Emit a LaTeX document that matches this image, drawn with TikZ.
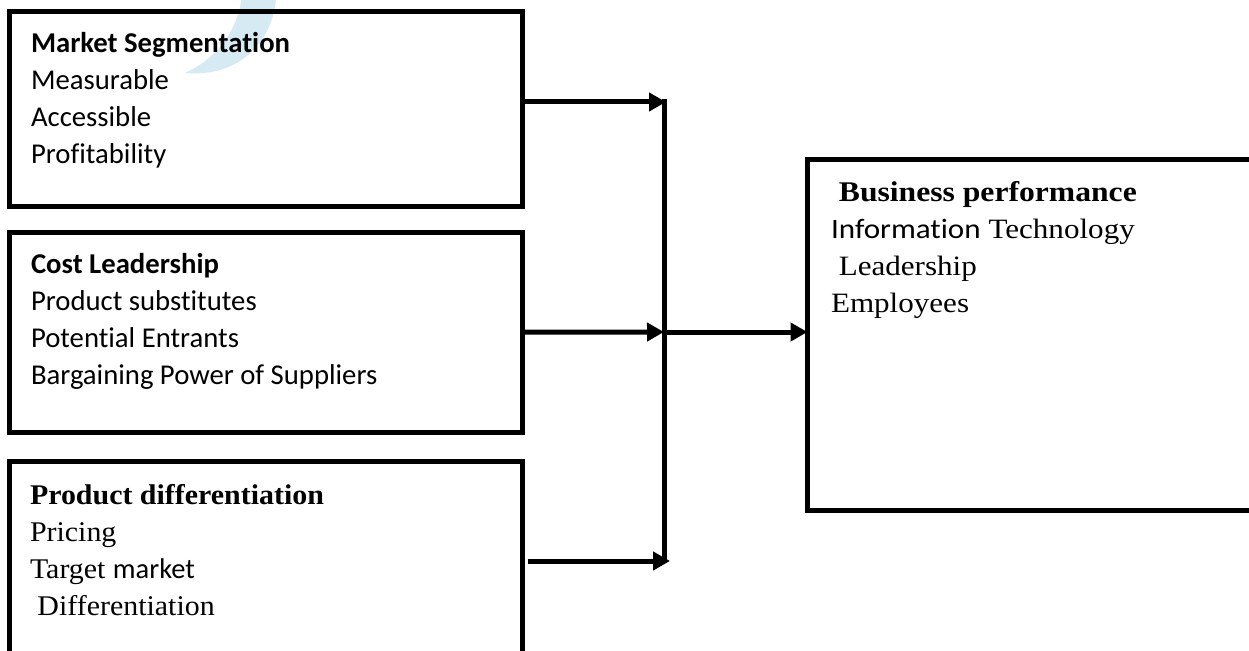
\documentclass[tikz,border=0pt]{standalone}
\usepackage{fontspec}
\usetikzlibrary{arrows.meta}
\newfontfamily\carlito[Ligatures=NoCommon]{Carlito}
\newfontfamily\tnr[FakeStretch=1.05]{Liberation Serif}
\newfontfamily\tnrwide[FakeStretch=1.11]{Liberation Serif}
\newfontfamily\carlitowide[FakeStretch=1.11,Ligatures=NoCommon]{Carlito}
\definecolor{wmblue}{RGB}{214,234,244}
% stack of lines, baseline of the node = baseline of the first line
\newcommand\linestack[1]{\vtop{\baselineskip=37pt\lineskiplimit=-100pt #1}}
\begin{document}
\begin{tikzpicture}[x=1pt,y=-1pt,
  box/.style={draw=black, line width=5pt, inner sep=0pt, outer sep=0pt, anchor=north west},
  txt/.style={anchor=base west, inner sep=0pt, outer sep=0pt},
  link/.style={line width=5pt},
  arr/.style={line width=5pt, -{Triangle[length=17pt,width=18pt]}}]
\useasboundingbox (0,0) rectangle (1249,650);
\clip (0,0) rectangle (1249,650);

% faint blue mark behind the first box
\fill[wmblue] (242,-5) .. controls (238,30) and (218,58) .. (185,73)
  .. controls (245,78) and (275,35) .. (276,-5) -- cycle;

% boxes
\node[box, minimum width=513pt, minimum height=195pt] (seg) at (9.5,11.5) {};
\node[box, minimum width=513pt, minimum height=199.5pt] (cost) at (9.5,232.5) {};
\node[box, minimum width=513pt, minimum height=260pt] (diff) at (9.5,461.5) {};
\node[box, minimum width=520pt, minimum height=351pt] (perf) at (807.5,159.5) {};

% box texts
\node[txt, font=\carlito\fontsize{28.7}{37}\selectfont] (segtxt) at (31,53)
  {\linestack{\hbox{\bfseries Market Segmentation}\hbox{Measurable}\hbox{Accessible}\hbox{Profitability}}};
\node[txt, font=\carlito\fontsize{28.7}{37}\selectfont] (costtxt) at (31,273)
  {\linestack{\hbox{\bfseries Cost Leadership}\hbox{Product substitutes}\hbox{Potential Entrants}\hbox{Bargaining Power of Suppliers}}};
\node[txt, font=\tnr\fontsize{28.5}{37}\selectfont] (difftxt) at (30,504)
  {\linestack{\hbox{\bfseries Product differentiation}\hbox{Pricing}\hbox{Target {\carlito market}}\hbox{\ Differentiation}}};
\node[txt, font=\tnrwide\fontsize{28}{37}\selectfont] (perftxt) at (831,201)
  {\linestack{\hbox{\fontsize{28.5}{37}\selectfont\bfseries\ Business performance}\hbox{{\carlitowide Information} Technology}\hbox{\ Leadership}\hbox{Employees}}};

% connector points
\coordinate (barTop) at (664,99);
\coordinate (barBot) at (664,563);
\coordinate (tipA) at (666,102);
\coordinate (jmid) at (664,332);
\coordinate (tipC) at (670,561);

% connectors
\draw[link] (barTop) -- (barBot);
\draw[arr] (seg.east |- tipA) -- (tipA);
\draw[arr] (cost.east) -- (jmid);
\draw[arr] ([xshift=5pt]diff.east |- tipC) -- (tipC);
\draw[arr] (jmid) -- (perf.west |- jmid);
\end{tikzpicture}
\end{document}
